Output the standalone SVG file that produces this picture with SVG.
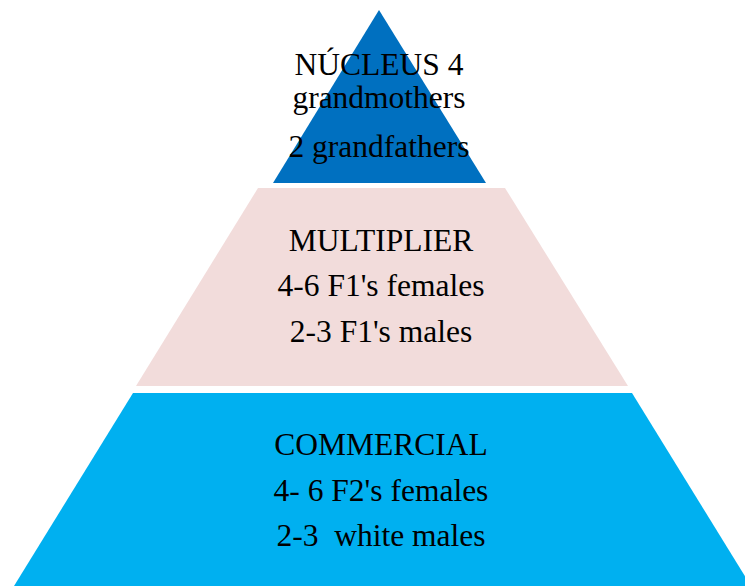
<svg xmlns="http://www.w3.org/2000/svg" width="745" height="586" viewBox="0 0 745 586">
<style>
text{font-family:"Liberation Serif","Times New Roman",serif;font-size:31.5px;fill:#000;text-anchor:middle}
</style>
<rect width="745" height="586" fill="#fff"/>
<g id="tier-commercial">
<polygon points="133,393 632,393 751,586 14,586" fill="#00B0F0"/>
<text x="381" y="455">COMMERCIAL</text>
<text x="381" y="501">4- 6 F2's females</text>
<text x="381" y="546" xml:space="preserve">2-3  white males</text>
</g>
<g id="tier-multiplier">
<polygon points="258,188 505,188 628,386 136,386" fill="#F2DCDB"/>
<text x="381" y="251">MULTIPLIER</text>
<text x="381" y="296">4-6 F1's females</text>
<text x="381" y="342">2-3 F1's males</text>
</g>
<g id="tier-nucleus">
<polygon points="379,10 486,183 273,183" fill="#0070C0"/>
<text x="379" y="75">NÚCLEUS 4</text>
<text x="379" y="108">grandmothers</text>
<text x="379" y="157">2 grandfathers</text>
</g>
<g id="connectors"/>
</svg>
